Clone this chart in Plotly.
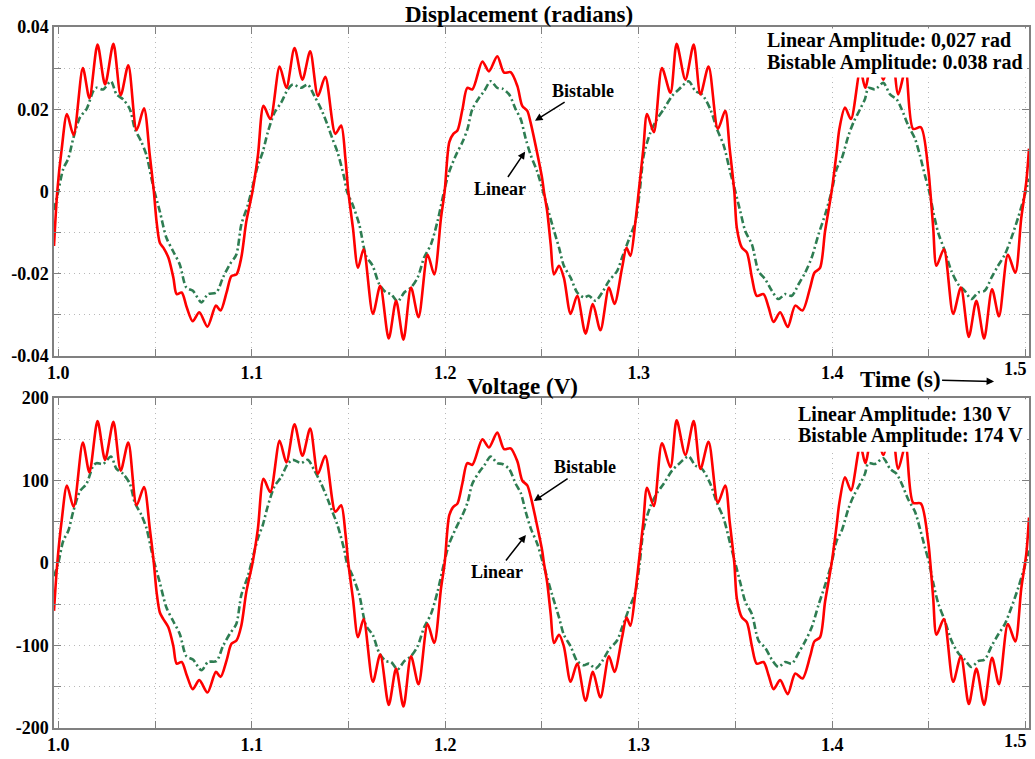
import plotly.graph_objects as go

# ---------------- data ----------------
t_bistable = [0.9978, 0.9995, 1.0018, 1.0045, 1.0079, 1.0127, 1.0161, 1.0203, 1.0242, 1.0285, 1.0323, 1.0362,
              1.0405, 1.0443, 1.0473, 1.0494, 1.0508, 1.0525, 1.0543, 1.0569, 1.0595, 1.0612, 1.0638, 1.0664,
              1.0695, 1.0729, 1.0771, 1.0815, 1.0839, 1.0870, 1.0895, 1.0921, 1.0946, 1.0972, 1.1004, 1.1032,
              1.1061, 1.1096, 1.1144, 1.1179, 1.1221, 1.1262, 1.1302, 1.1342, 1.1380, 1.1432, 1.1462, 1.1484,
              1.1499, 1.1523, 1.1549, 1.1578, 1.1626, 1.1664, 1.1708, 1.1746, 1.1784, 1.1823, 1.1862, 1.1909,
              1.1943, 1.1978, 1.1997, 1.2021, 1.2042, 1.2063, 1.2089, 1.2114, 1.2140, 1.2192, 1.2226, 1.2269,
              1.2304, 1.2338, 1.2373, 1.2398, 1.2424, 1.2441, 1.2467, 1.2501, 1.2510, 1.2527, 1.2545, 1.2562,
              1.2588, 1.2613, 1.2648, 1.2682, 1.2725, 1.2763, 1.2802, 1.2846, 1.2875, 1.2914, 1.2937, 1.2957,
              1.2983, 1.3000, 1.3024, 1.3043, 1.3078, 1.3120, 1.3164, 1.3196, 1.3241, 1.3284, 1.3319, 1.3361,
              1.3409, 1.3447, 1.3470, 1.3494, 1.3507, 1.3533, 1.3559, 1.3585, 1.3610, 1.3645, 1.3671, 1.3697,
              1.3731, 1.3770, 1.3809, 1.3846, 1.3886, 1.3908, 1.3937, 1.3963, 1.3997, 1.4023, 1.4037, 1.4066,
              1.4097, 1.4145, 1.4171, 1.4217, 1.4264, 1.4305, 1.4341, 1.4379, 1.4418, 1.4458, 1.4496, 1.4507,
              1.4522, 1.4539, 1.4577, 1.4625, 1.4665, 1.4706, 1.4745, 1.4785, 1.4826, 1.4862, 1.4908, 1.4946,
              1.4977, 1.5003, 1.5017]

disp_bistable = [-0.0133, 0.0, 0.0104, 0.0188, 0.0137, 0.0300, 0.0227, 0.0357, 0.0260, 0.0359, 0.0234, 0.0307,
                 0.0149, 0.0202, 0.0088, 0.0, -0.0073, -0.0125, -0.0137, -0.0161, -0.0210, -0.0250, -0.0246, -0.0282,
                 -0.0316, -0.0294, -0.0329, -0.0278, -0.0290, -0.0246, -0.0206, -0.0202, -0.0161, -0.0073, 0.0, 0.0088,
                 0.0208, 0.0176, 0.0304, 0.0252, 0.0349, 0.0272, 0.0341, 0.0232, 0.0279, 0.0140, 0.0160, 0.0080,
                 0.0, -0.0089, -0.0186, -0.0141, -0.0298, -0.0230, -0.0358, -0.0266, -0.0361, -0.0234, -0.0306, -0.0154,
                 -0.0202, -0.0065, 0.0, 0.0120, 0.0140, 0.0148, 0.0200, 0.0252, 0.0248, 0.0316, 0.0292, 0.0329,
                 0.0289, 0.0290, 0.0256, 0.0208, 0.0196, 0.0168, 0.0112, 0.0031, 0.0, -0.0049, -0.0129, -0.0202,
                 -0.0181, -0.0210, -0.0298, -0.0254, -0.0346, -0.0274, -0.0338, -0.0234, -0.0274, -0.0186, -0.0137, -0.0157,
                 -0.0073, 0.0, 0.0104, 0.0188, 0.0144, 0.0300, 0.0240, 0.0359, 0.0272, 0.0357, 0.0236, 0.0304,
                 0.0152, 0.0196, 0.0104, 0.0, -0.0089, -0.0137, -0.0149, -0.0210, -0.0254, -0.0250, -0.0282, -0.0318,
                 -0.0294, -0.0330, -0.0278, -0.0290, -0.0234, -0.0198, -0.0186, -0.0097, 0.0, 0.0096, 0.0152, 0.0204,
                 0.0176, 0.0296, 0.0252, 0.0357, 0.0272, 0.0357, 0.0236, 0.0296, 0.0152, 0.0156, 0.0055, 0.0,
                 -0.0089, -0.0181, -0.0141, -0.0298, -0.0234, -0.0354, -0.0266, -0.0358, -0.0238, -0.0304, -0.0154, -0.0198,
                 -0.0065, 0.0023, 0.0104]

volt_bistable = [-58, 0, 52, 94, 68, 146, 110, 172, 125, 171, 112, 146,
                 70, 92, 42, 0, -35, -60, -68, -78, -101, -122, -120, -136,
                 -153, -142, -157, -132, -138, -118, -98, -94, -76, -35, 0, 42,
                 102, 86, 148, 122, 168, 130, 163, 108, 130, 62, 70, 36,
                 0, -43, -90, -68, -144, -111, -172, -128, -174, -113, -147, -74,
                 -97, -31, 0, 58, 68, 72, 97, 121, 119, 150, 140, 158,
                 138, 139, 123, 100, 94, 81, 54, 15, 0, -24, -62, -97,
                 -87, -101, -144, -122, -167, -132, -163, -113, -132, -90, -66, -76,
                 -35, 0, 50, 91, 69, 145, 116, 173, 131, 172, 114, 147,
                 73, 94, 50, 0, -43, -66, -72, -101, -122, -120, -136, -153,
                 -142, -159, -134, -140, -113, -95, -90, -47, 0, 46, 73, 104,
                 88, 143, 121, 172, 131, 172, 114, 143, 73, 72, 26, 0,
                 -43, -87, -68, -144, -113, -171, -128, -172, -115, -147, -74, -95,
                 -31, 11, 55]

t_linear = [0.9978, 1.0000, 1.0026, 1.0052, 1.0077, 1.0112, 1.0146, 1.0181, 1.0198, 1.0232, 1.0272, 1.0301,
            1.0335, 1.0370, 1.0396, 1.0430, 1.0456, 1.0482, 1.0497, 1.0525, 1.0559, 1.0593, 1.0628, 1.0662,
            1.0696, 1.0740, 1.0774, 1.0817, 1.0851, 1.0886, 1.0920, 1.0946, 1.0980, 1.0998, 1.1032, 1.1057,
            1.1083, 1.1118, 1.1152, 1.1186, 1.1212, 1.1255, 1.1289, 1.1324, 1.1359, 1.1393, 1.1417, 1.1443,
            1.1479, 1.1492, 1.1522, 1.1556, 1.1591, 1.1625, 1.1659, 1.1694, 1.1720, 1.1754, 1.1788, 1.1823,
            1.1857, 1.1891, 1.1926, 1.1960, 1.1994, 1.2020, 1.2055, 1.2089, 1.2115, 1.2140, 1.2175, 1.2201,
            1.2235, 1.2269, 1.2295, 1.2330, 1.2364, 1.2390, 1.2416, 1.2442, 1.2476, 1.2505, 1.2553, 1.2588,
            1.2613, 1.2648, 1.2682, 1.2717, 1.2742, 1.2777, 1.2811, 1.2846, 1.2888, 1.2914, 1.2949, 1.2983,
            1.3005, 1.3026, 1.3061, 1.3095, 1.3129, 1.3172, 1.3207, 1.3258, 1.3293, 1.3327, 1.3370, 1.3404,
            1.3439, 1.3473, 1.3499, 1.3525, 1.3551, 1.3585, 1.3619, 1.3654, 1.3688, 1.3722, 1.3757, 1.3791,
            1.3826, 1.3860, 1.3894, 1.3929, 1.3963, 1.3997, 1.4023, 1.4049, 1.4084, 1.4110, 1.4144, 1.4169,
            1.4187, 1.4221, 1.4264, 1.4299, 1.4333, 1.4359, 1.4393, 1.4428, 1.4453, 1.4479, 1.4501, 1.4522,
            1.4548, 1.4582, 1.4616, 1.4651, 1.4685, 1.4719, 1.4754, 1.4788, 1.4823, 1.4857, 1.4892, 1.4926,
            1.4960, 1.4995, 1.5017]

disp_linear = [-0.0045, 0.0, 0.0055, 0.0080, 0.0128, 0.0180, 0.0200, 0.0244, 0.0252, 0.0248, 0.0268, 0.0236,
               0.0224, 0.0200, 0.0152, 0.0120, 0.0088, 0.0031, 0.0, -0.0049, -0.0113, -0.0145, -0.0178, -0.0234,
               -0.0242, -0.0270, -0.0250, -0.0246, -0.0210, -0.0178, -0.0154, -0.0081, -0.0033, 0.0, 0.0063, 0.0096,
               0.0144, 0.0192, 0.0216, 0.0248, 0.0260, 0.0252, 0.0260, 0.0232, 0.0200, 0.0160, 0.0128, 0.0096,
               0.0031, 0.0, -0.0033, -0.0081, -0.0157, -0.0181, -0.0226, -0.0246, -0.0250, -0.0268, -0.0246, -0.0234,
               -0.0210, -0.0161, -0.0129, -0.0073, 0.0, 0.0047, 0.0088, 0.0120, 0.0152, 0.0200, 0.0228, 0.0244,
               0.0268, 0.0252, 0.0250, 0.0236, 0.0200, 0.0176, 0.0128, 0.0088, 0.0047, 0.0, -0.0081, -0.0137,
               -0.0181, -0.0210, -0.0246, -0.0258, -0.0254, -0.0266, -0.0246, -0.0218, -0.0194, -0.0161, -0.0117, -0.0073,
               0.0, 0.0088, 0.0144, 0.0176, 0.0200, 0.0232, 0.0248, 0.0268, 0.0244, 0.0236, 0.0200, 0.0152,
               0.0112, 0.0047, 0.0, -0.0049, -0.0097, -0.0129, -0.0194, -0.0214, -0.0242, -0.0262, -0.0250, -0.0254,
               -0.0226, -0.0198, -0.0161, -0.0105, -0.0057, 0.0, 0.0055, 0.0080, 0.0136, 0.0168, 0.0200, 0.0224,
               0.0252, 0.0248, 0.0264, 0.0236, 0.0224, 0.0200, 0.0160, 0.0128, 0.0088, 0.0039, 0.0, -0.0049,
               -0.0101, -0.0145, -0.0194, -0.0226, -0.0242, -0.0262, -0.0246, -0.0242, -0.0210, -0.0181, -0.0154, -0.0113,
               -0.0065, -0.0009, 0.0031]

volt_linear = [-16, 0, 27, 39, 62, 87, 96, 118, 121, 120, 129, 114,
               108, 96, 73, 58, 42, 15, 0, -24, -54, -70, -86, -113,
               -117, -130, -120, -119, -101, -86, -74, -39, -16, 0, 30, 46,
               69, 93, 104, 120, 125, 121, 125, 112, 96, 77, 62, 46,
               15, 0, -16, -39, -76, -87, -109, -119, -120, -129, -119, -113,
               -101, -78, -62, -35, 0, 23, 42, 58, 73, 96, 110, 118,
               129, 121, 120, 114, 96, 85, 62, 42, 23, 0, -39, -66,
               -87, -101, -119, -124, -122, -128, -119, -105, -94, -78, -56, -35,
               0, 42, 69, 85, 96, 112, 120, 129, 118, 114, 96, 73,
               54, 23, 0, -24, -47, -62, -94, -103, -117, -126, -120, -122,
               -109, -95, -78, -51, -27, 0, 27, 39, 66, 81, 96, 108,
               121, 120, 127, 114, 108, 96, 77, 62, 42, 19, 0, -24,
               -49, -70, -94, -109, -117, -126, -119, -117, -101, -87, -74, -54,
               -31, -4, 15]

x_tick_vals = [1.0, 1.05, 1.1, 1.15, 1.2, 1.25, 1.3, 1.35, 1.4, 1.45, 1.5]
x_tick_text = ["1.0", "", "1.1", "", "1.2", "", "1.3", "", "1.4", "", ""]
last_x_label = "1.5"
disp_tick_vals = [-0.04, -0.03, -0.02, -0.01, 0, 0.01, 0.02, 0.03, 0.04]
disp_tick_text = ["-0.04", "", "-0.02", "", "0", "", "0.02", "", "0.04"]
volt_tick_vals = [-200, -150, -100, -50, 0, 50, 100, 150, 200]
volt_tick_text = ["-200", "", "-100", "", "0", "", "100", "", "200"]

# ---------------- styling ----------------
RED = "#ff0000"
GREEN = "#2e7d52"
FONT = "Liberation Serif"
AXC = "#808080"
GRID = "#b8b8b8"

fig = go.Figure()
fig.add_trace(go.Scatter(x=t_linear, y=disp_linear, mode="lines", name="Linear",
                         line=dict(color=GREEN, width=2.6, dash="7px,3px,2px,3px", shape="spline", smoothing=0.8),
                         xaxis="x", yaxis="y"))
fig.add_trace(go.Scatter(x=t_bistable, y=disp_bistable, mode="lines", name="Bistable",
                         line=dict(color=RED, width=2.6, shape="spline", smoothing=0.8),
                         xaxis="x", yaxis="y"))
fig.add_trace(go.Scatter(x=t_linear, y=volt_linear, mode="lines", name="Linear",
                         line=dict(color=GREEN, width=2.6, dash="7px,3px,2px,3px", shape="spline", smoothing=0.8),
                         xaxis="x2", yaxis="y2"))
fig.add_trace(go.Scatter(x=t_bistable, y=volt_bistable, mode="lines", name="Bistable",
                         line=dict(color=RED, width=2.6, shape="spline", smoothing=0.8),
                         xaxis="x2", yaxis="y2"))

tickfont = dict(family=FONT, size=18, color="black", weight="bold")
xcommon = dict(range=[0.9978, 1.5017], tickvals=x_tick_vals, ticktext=x_tick_text,
               ticks="inside", ticklen=7, tickcolor=AXC, showline=True, linecolor=AXC, linewidth=1.5,
               mirror="allticks", showgrid=True, gridcolor=GRID, griddash="1px,4px", gridwidth=1,
               zeroline=False, tickfont=tickfont)
ycommon = dict(ticks="inside", ticklen=7, tickcolor=AXC, showline=True, linecolor=AXC, linewidth=1.5,
               mirror="allticks", showgrid=True, gridcolor=GRID, griddash="1px,4px", gridwidth=1,
               zeroline=False, tickfont=tickfont)

fig.update_layout(
    width=1035, height=759,
    margin=dict(l=54, r=4, t=27, b=24),
    paper_bgcolor="white", plot_bgcolor="white",
    showlegend=False,
    xaxis=dict(anchor="y", domain=[0, 1], **xcommon),
    yaxis=dict(anchor="x", domain=[0.531, 1.0], range=[-0.04, 0.04],
               tickvals=disp_tick_vals, ticktext=disp_tick_text, **ycommon),
    xaxis2=dict(anchor="y2", domain=[0, 1], **xcommon),
    yaxis2=dict(anchor="x2", domain=[0.0, 0.4708], range=[-200, 200],
                tickvals=volt_tick_vals, ticktext=volt_tick_text, **ycommon),
)

# white boxes behind the amplitude texts (they hide the curve)
fig.add_shape(type="rect", xref="paper", yref="paper", x0=0.7226, x1=0.998, y0=0.928, y1=0.998,
              fillcolor="white", line=dict(width=0), layer="above")
fig.add_shape(type="rect", xref="paper", yref="paper", x0=0.755, x1=0.998, y0=0.394, y1=0.469,
              fillcolor="white", line=dict(width=0), layer="above")

def txt(size):
    return dict(family=FONT, size=size, color="black", weight="bold")

ann = []
ann.append(dict(text="Displacement (radians)", xref="paper", yref="paper", x=0.477, y=1.018,
                xanchor="center", yanchor="middle", showarrow=False, font=txt(23)))
ann.append(dict(text="Voltage (V)", xref="paper", yref="paper", x=0.481, y=0.4873,
                xanchor="center", yanchor="middle", showarrow=False, font=txt(23)))
ann.append(dict(text="Time (s)", xref="paper", yref="paper", x=(996 - 54) / 977, y=(735 - 385) / 708,
                ax=-94, ay=-2, showarrow=True, arrowhead=2, arrowsize=1, arrowwidth=1.5,
                arrowcolor="black", font=txt(23)))
# last x tick label, drawn slightly inside the edge as in the reference
for yv in [(735 - 372) / 708, (735 - 748) / 708]:
    ann.append(dict(text=last_x_label, xref="paper", yref="paper", x=(1031 - 54) / 977, y=yv,
                    xanchor="right", yanchor="middle", showarrow=False, font=txt(18)))
# amplitude texts
ann.append(dict(text="Linear Amplitude: 0,027 rad", xref="paper", yref="paper", x=0.7288, y=0.981,
                xanchor="left", yanchor="middle", showarrow=False, font=txt(20)))
ann.append(dict(text="Bistable Amplitude: 0.038 rad", xref="paper", yref="paper", x=0.7288, y=0.950,
                xanchor="left", yanchor="middle", showarrow=False, font=txt(20)))
ann.append(dict(text="Linear Amplitude: 130 V", xref="paper", yref="paper", x=0.7615, y=0.4477,
                xanchor="left", yanchor="middle", showarrow=False, font=txt(20)))
ann.append(dict(text="Bistable Amplitude: 174 V", xref="paper", yref="paper", x=0.7615, y=0.4167,
                xanchor="left", yanchor="middle", showarrow=False, font=txt(20)))
# curve labels with arrows
ann.append(dict(text="Bistable", xref="x", yref="y", x=1.2464, y=0.0172, ax=48, ay=-30,
                showarrow=True, arrowhead=2, arrowsize=1, arrowwidth=1.5, arrowcolor="black", font=txt(18)))
ann.append(dict(text="Linear", xref="x", yref="y", x=1.2413, y=0.0097, ax=-25, ay=37,
                showarrow=True, arrowhead=2, arrowsize=1, arrowwidth=1.5, arrowcolor="black", font=txt(18)))
ann.append(dict(text="Bistable", xref="x2", yref="y2", x=1.2458, y=75, ax=51, ay=-34,
                showarrow=True, arrowhead=2, arrowsize=1, arrowwidth=1.5, arrowcolor="black", font=txt(18)))
ann.append(dict(text="Linear", xref="x2", yref="y2", x=1.2417, y=34, ax=-29, ay=37,
                showarrow=True, arrowhead=2, arrowsize=1, arrowwidth=1.5, arrowcolor="black", font=txt(18)))
fig.update_layout(annotations=ann)

fig.write_html("out.html")
